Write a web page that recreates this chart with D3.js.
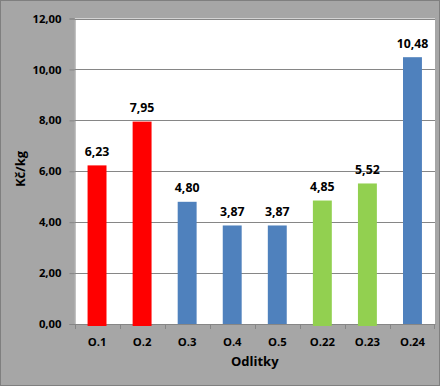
<!DOCTYPE html>
<html>
<head>
<meta charset="utf-8">
<script src="https://cdn.jsdelivr.net/npm/d3@7"></script>
<style>
  body { margin: 0; background: #fff; }
  svg text { font-family: "Open Sans", Lato, sans-serif; font-weight: bold; fill: #000; }
</style>
</head>
<body>
<div id="chart"></div>
<script>
// data
const categories = ["O.1", "O.2", "O.3", "O.4", "O.5", "O.22", "O.23", "O.24"];
const values = [6.23, 7.95, 4.80, 3.87, 3.87, 4.85, 5.52, 10.48];
const groups = ["red", "red", "blue", "blue", "blue", "green", "green", "blue"];
const yTicks = [0, 2, 4, 6, 8, 10, 12];

const width = 440;
const height = 386;
const margin = { top: 18.5, right: 5, bottom: 62, left: 74.5 };

const colorScale = d3.scaleOrdinal()
  .domain(["red", "blue", "green"])
  .range(["#ff0000", "#4f81bd", "#92d050"]);

const fmt = (d) => d3.format(".2f")(d).replace(".", ",");

const svg = d3.select("#chart").append("svg")
  .attr("width", width)
  .attr("height", height);

// background
svg.append("rect")
  .attr("x", 0.5).attr("y", 0.5)
  .attr("width", width - 1).attr("height", height - 1)
  .attr("fill", "#a6a6a6")
  .attr("stroke", "#7f7f7f");

const xScale = d3.scaleBand()
  .domain(categories)
  .range([margin.left, width - margin.right])
  .paddingInner(0.58)
  .paddingOuter(0.29);

const xOuter = d3.scaleBand()
  .domain(categories)
  .range([margin.left, width - margin.right]);

const yScale = d3.scaleLinear()
  .domain([0, 12])
  .range([height - margin.bottom, margin.top]);

// plot area
svg.append("rect")
  .attr("x", margin.left)
  .attr("y", margin.top)
  .attr("width", width - margin.right - margin.left)
  .attr("height", height - margin.bottom - margin.top)
  .attr("fill", "#fff");

// grid
svg.append("g")
  .selectAll("line")
  .data(yTicks.filter((d) => d > 0))
  .join("line")
  .attr("x1", margin.left)
  .attr("x2", width - margin.right)
  .attr("y1", (d) => Math.round(yScale(d)) + 0.5)
  .attr("y2", (d) => Math.round(yScale(d)) + 0.5)
  .attr("stroke", "#868686");

// y axis
const yAxis = d3.axisLeft(yScale)
  .tickValues(yTicks)
  .tickFormat(fmt)
  .tickSize(5)
  .tickPadding(8);

const yG = svg.append("g")
  .attr("transform", `translate(${margin.left}, 0)`)
  .call(yAxis);
yG.select(".domain").attr("stroke", "#868686");
yG.selectAll(".tick line").attr("stroke", "#868686");
yG.selectAll(".tick text").style("font-size", "11.3px");

// x axis
const xAxis = d3.axisBottom(xOuter).tickSize(0).tickPadding(14);
const xG = svg.append("g")
  .attr("transform", `translate(0, ${height - margin.bottom})`)
  .call(xAxis);
xG.select(".domain").attr("stroke", "#868686");
xG.selectAll(".tick text").style("font-size", "11.3px");

svg.append("g")
  .selectAll("line")
  .data(categories)
  .join("line")
  .attr("x1", (d) => Math.round(xOuter(d)) + 0.5)
  .attr("x2", (d) => Math.round(xOuter(d)) + 0.5)
  .attr("y1", height - margin.bottom)
  .attr("y2", height - margin.bottom + 5)
  .attr("stroke", "#868686");
svg.append("line")
  .attr("x1", width - margin.right - 0.5)
  .attr("x2", width - margin.right - 0.5)
  .attr("y1", height - margin.bottom)
  .attr("y2", height - margin.bottom + 5)
  .attr("stroke", "#868686");

// bars
svg.append("g")
  .selectAll("rect")
  .data(categories)
  .join("rect")
  .attr("x", (d) => xScale(d))
  .attr("width", xScale.bandwidth())
  .attr("y", (d, i) => yScale(values[i]))
  .attr("height", (d, i) => yScale(0) - yScale(values[i]) + (groups[i] === "blue" ? 0 : 2))
  .attr("fill", (d, i) => colorScale(groups[i]));

// labels
svg.append("g")
  .selectAll("text")
  .data(categories)
  .join("text")
  .attr("x", (d) => xScale(d) + xScale.bandwidth() / 2)
  .attr("y", (d, i) => yScale(values[i]) - 9.5)
  .attr("text-anchor", "middle")
  .style("font-size", "12.3px")
  .text((d, i) => fmt(values[i]));

// axis titles
svg.append("text")
  .attr("x", (margin.left + width - margin.right) / 2)
  .attr("y", 366)
  .attr("text-anchor", "middle")
  .style("font-size", "13px")
  .text("Odlitky");

svg.append("text")
  .attr("transform", `translate(25, ${169}) rotate(-90)`)
  .attr("text-anchor", "middle")
  .style("font-size", "13px")
  .text("Kč/kg");
</script>
</body>
</html>
